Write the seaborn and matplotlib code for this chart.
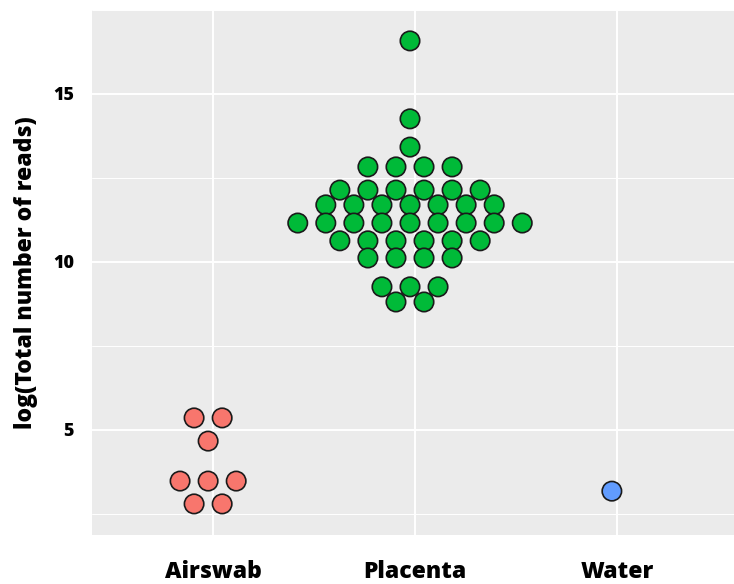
import numpy as np
import pandas as pd
import matplotlib
matplotlib.use("Agg")
import matplotlib.pyplot as plt
import matplotlib.transforms as mtransforms
from matplotlib.ticker import MultipleLocator
import seaborn as sns

# Sample groups and their log read counts (binned values, one entry per sample)
groups = ["Airswab", "Placenta", "Water"]
airswab = [5.36, 5.36, 4.67, 3.48, 3.48, 3.48, 2.80, 2.80]
placenta = ([16.58, 14.26, 13.42] + [12.83] * 4 + [12.14] * 6 + [11.70] * 7
            + [11.16] * 9 + [10.63] * 6 + [10.12] * 4 + [9.26] * 3 + [8.81] * 2)
water = [3.18]
colors = ["#F8766D", "#00BA38", "#619CFF"]
y_ticks = [5, 10, 15]

# Stack equal values side by side, centred on each group's position
spacing = 0.139
rows = []
for gi, (name, vals) in enumerate(zip(groups, [airswab, placenta, water])):
    s = pd.Series(vals)
    for v, n in s.value_counts(sort=False).items():
        for k in range(n):
            rows.append({"group": name, "x": gi + 1 + (k - (n - 1) / 2) * spacing, "y": v})
df = pd.DataFrame(rows)

sns.set_theme(style="darkgrid", rc={
    "axes.facecolor": "#EBEBEB",
    "grid.color": "white",
})
plt.rcParams["font.family"] = ["Open Sans", "DejaVu Sans"]

W, H = 734, 584
fig = plt.figure(figsize=(W / 100, H / 100), dpi=100)
left, right, top, bottom = 92, 738, 10, 535
ax = fig.add_axes([left / W, (H - bottom) / H, (right - left) / W, (bottom - top) / H])

sns.scatterplot(data=df, x="x", y="y", hue="group", palette=colors, hue_order=groups,
                s=195, edgecolor="#1a1a1a", linewidth=1.2, legend=False, ax=ax, zorder=3)
# small leftward nudge of the dot stacks
for coll in ax.collections:
    coll.set_transform(coll.get_transform() + mtransforms.ScaledTranslation(-5 / 100, 0, fig.dpi_scale_trans))

ax.set_xlim(0.4, 3.6)
ax.set_ylim(1.875, 17.5)
ax.set_xticks([1, 2, 3])
ax.set_xticklabels(groups, fontsize=16.5, fontweight=800, color="black")
ax.set_yticks(y_ticks)
ax.set_yticklabels([str(t) for t in y_ticks], fontsize=13, fontweight=800, color="black")
ax.yaxis.set_minor_locator(MultipleLocator(2.5))
ax.grid(which="major", color="white", linewidth=1.4)
ax.grid(which="minor", axis="y", color="white", linewidth=0.7)
ax.tick_params(axis="both", which="major", length=3.0, width=1.0, color="#333333", direction="out")
ax.tick_params(axis="x", pad=15)
ax.tick_params(axis="y", pad=10)
ax.tick_params(which="minor", length=0)
for sp in ax.spines.values():
    sp.set_visible(False)

ax.set_xlabel("")
ax.set_ylabel("log(Total number of reads)", fontsize=16.5, fontweight=800, color="black", labelpad=11)

fig.savefig("out.png", dpi=100)
